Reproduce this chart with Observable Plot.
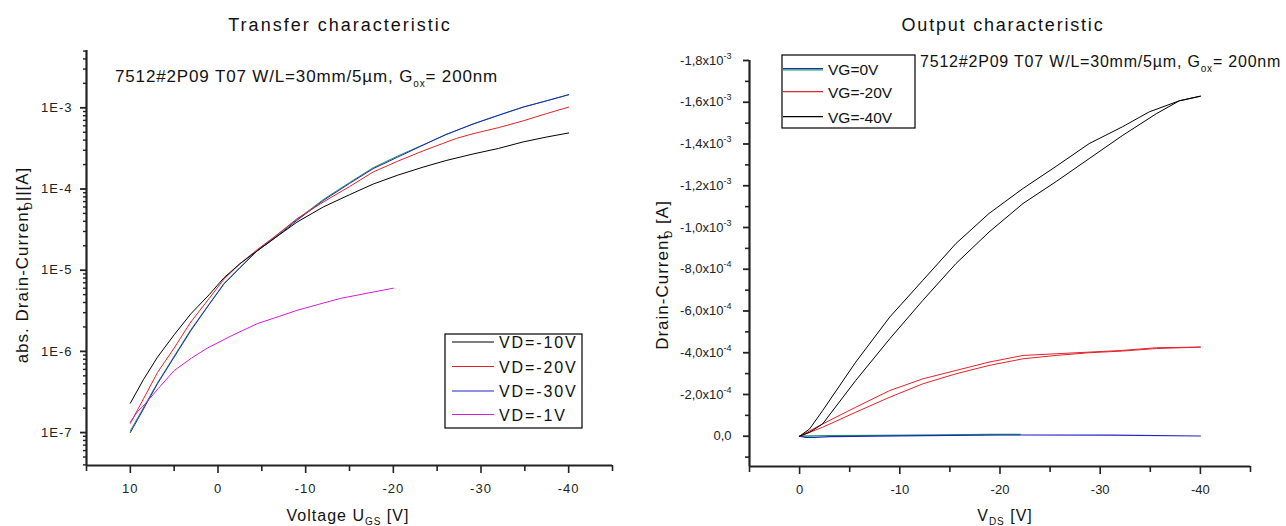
<!DOCTYPE html>
<html><head><meta charset="utf-8">
<script src="https://cdn.jsdelivr.net/npm/d3@7"></script>
<script src="https://cdn.jsdelivr.net/npm/@observablehq/plot@0.6"></script>
<style>
html,body{margin:0;padding:0;background:#fff}
body{width:1286px;height:526px;overflow:hidden;position:relative}
#left,#right{position:absolute;top:0}
#left{left:0}
#right{left:640px}
svg{overflow:visible}
</style></head><body>
<div id="left"></div><div id="right"></div>
<script>
// ---------- Transfer characteristic (left) ----------
const transferTitle = "Transfer characteristic";
const transferNote = ["7512#2P09 T07 W/L=30mm/5µm, G", "ox", "= 200nm"];
const vgsTicks = [10, 0, -10, -20, -30, -40];
const vgsMinor = [15, 5, -5, -15, -25, -35, -45];
const idDecades = [1e-7, 1e-6, 1e-5, 1e-4, 1e-3];
const transferLegend = ["VD=-10V", "VD=-20V", "VD=-30V", "VD=-1V"];

const vgsBlack = [10, 8.5, 6.9, 5, 3.1, 1, -0.7, -2.5, -4.5, -6.5, -9, -12, -15, -17.7, -20.5, -23.4, -26, -29.1, -32, -34.8, -37.5, -40];
const idBlack  = [2.3e-7, 4.5e-7, 8.5e-7, 1.6e-6, 2.9e-6, 5.0e-6, 8.1e-6, 1.2e-5, 1.74e-5, 2.5e-5, 3.9e-5, 6.0e-5, 8.5e-5, 1.15e-4, 1.48e-4, 1.86e-4, 2.24e-4, 2.7e-4, 3.16e-4, 3.8e-4, 4.37e-4, 4.9e-4];

const vgsRed = [10, 8.5, 6.9, 5, 3.1, 1, -0.7, -2.5, -4.5, -6.5, -9, -12, -15, -17.7, -20.5, -23.4, -27.2, -29.1, -32, -34.8, -37.5, -40];
const idRed  = [1.3e-7, 2.6e-7, 5.5e-7, 1.1e-6, 2.3e-6, 4.5e-6, 7.8e-6, 1.2e-5, 1.8e-5, 2.6e-5, 4.3e-5, 6.9e-5, 1.07e-4, 1.62e-4, 2.2e-4, 2.95e-4, 4.2e-4, 4.8e-4, 5.7e-4, 6.9e-4, 8.5e-4, 1.02e-3];

const vgsBlue = [10, 8.5, 6.9, 5, 3.1, 1, -0.7, -2.5, -4.5, -6.5, -9, -12, -15, -17.7, -20.5, -23.4, -26, -29.1, -32, -34.8, -37.5, -40];
const idBlue  = [1.0e-7, 1.95e-7, 4.0e-7, 8.5e-7, 1.8e-6, 3.8e-6, 6.8e-6, 1.07e-5, 1.74e-5, 2.5e-5, 4.1e-5, 7.2e-5, 1.17e-4, 1.78e-4, 2.47e-4, 3.47e-4, 4.7e-4, 6.3e-4, 8.1e-4, 1.02e-3, 1.22e-3, 1.45e-3];

const vgsGreen = [10, 6.9, 3.1, -0.7, -4.5, -9, -12, -15, -17.7, -20.5, -23.4, -26, -29.1, -34.8, -40];
const idGreen  = [1.05e-7, 4.1e-7, 1.85e-6, 6.9e-6, 1.77e-5, 4.2e-5, 7.4e-5, 1.2e-4, 1.83e-4, 2.55e-4, 3.5e-4, 4.65e-4, 6.35e-4, 1.02e-3, 1.45e-3];

const vgsMag = [10, 9.2, 8.4, 6.8, 5.0, 3.0, 1.2, -1.5, -4.5, -7, -9, -11.5, -14, -17, -20];
const idMag  = [1.35e-7, 1.8e-7, 2.2e-7, 3.5e-7, 5.8e-7, 8.3e-7, 1.1e-6, 1.55e-6, 2.2e-6, 2.7e-6, 3.2e-6, 3.8e-6, 4.5e-6, 5.2e-6, 6.0e-6];

// ---------- Output characteristic (right) ----------
const outputTitle = "Output characteristic";
const vdsTicks = [0, -10, -20, -30, -40];
const vdsMinor = [5, -5, -15, -25, -35, -45];
const idOutTicks = [-1.8e-3, -1.6e-3, -1.4e-3, -1.2e-3, -1.0e-3, -8e-4, -6e-4, -4e-4, -2e-4, 0];
const idOutMinor = [-1.7e-3, -1.5e-3, -1.3e-3, -1.1e-3, -9e-4, -7e-4, -5e-4, -3e-4, -1e-4, 1e-4];
const outputLegend = ["VG=0V", "VG=-20V", "VG=-40V"];

const vdsUp40 = [0, -1, -2.3, -5.6, -9, -12.3, -15.6, -18.9, -22.3, -25.6, -28.9, -32.2, -34.9, -37.9, -40];
const idUp40  = [0, -3.5e-5, -1.23e-4, -3.55e-4, -5.71e-4, -7.47e-4, -9.23e-4, -1.067e-3, -1.187e-3, -1.293e-3, -1.402e-3, -1.482e-3, -1.554e-3, -1.607e-3, -1.629e-3];
const vdsDn40 = [0, -1, -2.3, -5.6, -9, -12.3, -15.6, -18.9, -22.3, -25.6, -28.9, -32.2, -35.6, -37.9, -40];
const idDn40  = [0, -1.9e-5, -5.9e-5, -2.67e-4, -4.67e-4, -6.51e-4, -8.27e-4, -9.78e-4, -1.115e-3, -1.22e-3, -1.33e-3, -1.44e-3, -1.545e-3, -1.607e-3, -1.629e-3];

const vds20   = [0, -2.3, -5.6, -9, -12.3, -15.6, -18.9, -22.3, -25.6, -28.9, -32.2, -35.6, -40];
const idUp20  = [0, -5.9e-5, -1.39e-4, -2.19e-4, -2.75e-4, -3.15e-4, -3.55e-4, -3.87e-4, -3.95e-4, -4.03e-4, -4.11e-4, -4.24e-4, -4.27e-4];
const idDn20  = [0, -4.3e-5, -1.15e-4, -1.87e-4, -2.51e-4, -2.99e-4, -3.39e-4, -3.71e-4, -3.87e-4, -4.0e-4, -4.08e-4, -4.2e-4, -4.27e-4];

const vds0g = [0, -1, -3, -8, -14, -19, -22];
const id0g  = [0, -1e-6, -3e-6, -4e-6, -6e-6, -8e-6, -8e-6];
const vds0b = [0, -0.5, -1.5, -3, -10, -20, -31, -40];
const id0b  = [0, 5e-6, 6e-6, 2e-6, -2e-6, -6e-6, -5e-6, -1e-6];

// ---------- helpers ----------
const FONT = '"Liberation Sans", Arial, Helvetica, sans-serif';
const C = {black: "#000000", red: "#e3222a", blue: "#1f24c4", green: "#1a9a5a", magenta: "#d51dd5"};
const pts = (X, Y) => X.map((x, i) => ({x, y: Y[i]}));
const line = (X, Y, stroke, w = 1) => Plot.line(pts(X, Y), {x: "x", y: "y", stroke, strokeWidth: w});

function addText(g, x, y, parts, opts = {}) {
  const t = g.append("text").attr("x", x).attr("y", y)
    .attr("font-family", FONT).attr("font-size", opts.size || 16)
    .attr("fill", opts.fill || "#111")
    .attr("text-anchor", opts.anchor || "start")
    .attr("letter-spacing", opts.ls || 0);
  if (opts.rotate) t.attr("transform", `rotate(-90 ${x} ${y})`);
  parts.forEach(p => {
    if (typeof p === "string") t.append("tspan").text(p);
    else t.append("tspan").attr("font-size", p.size).attr("dy", p.dy).attr("dx", p.dx || 0).text(p.t);
  });
  return t;
}

// ---------- left chart ----------
const yMinL = 3.93e-8, yMaxL = 5.08e-3;
const idMinor = [];
for (let e = -8; e <= -3; e++) for (let m = 2; m <= 9; m++) { const v = m * Math.pow(10, e); if (v > yMinL && v < yMaxL) idMinor.push(v); }

const left = Plot.plot({
  width: 640, height: 526,
  marginLeft: 86, marginRight: 28, marginTop: 50, marginBottom: 61,
  x: {domain: [15, -45]},
  y: {type: "log", domain: [yMinL, yMaxL]},
  style: {fontFamily: FONT, fontSize: "13px", color: "#222", background: "transparent"},
  marks: [
    Plot.axisX({ticks: vgsTicks, tickSize: 8, tickPadding: 10, tickFormat: d => String(d), label: null, strokeWidth: 1.6}),
    Plot.axisX({ticks: vgsMinor, tickSize: 6, tickFormat: () => "", label: null, strokeWidth: 1.6}),
    Plot.axisY({ticks: idDecades, tickSize: 6, tickPadding: 8, tickFormat: d => "1E" + Math.round(Math.log10(d)), label: null, strokeWidth: 1.8}),
    Plot.axisY({ticks: idMinor, tickSize: 3, tickFormat: () => "", label: null, strokeWidth: 1.4}),
    Plot.ruleX([15], {strokeWidth: 2.2}),
    Plot.ruleY([yMinL], {strokeWidth: 2.2}),
    line(vgsGreen, idGreen, C.green),
    line(vgsBlue, idBlue, C.blue),
    line(vgsRed, idRed, C.red),
    line(vgsBlack, idBlack, C.black),
    line(vgsMag, idMag, C.magenta)
  ]
});
document.getElementById("left").appendChild(left);
{
  const g = d3.select(left);
  g.selectAll("text").attr("letter-spacing", 1);
  addText(g, 340, 31, [transferTitle], {size: 18, anchor: "middle", ls: 2.0});
  addText(g, 115, 82, [transferNote[0], {t: transferNote[1], size: 10, dy: 5}, {t: transferNote[2], size: 17, dy: -5}], {size: 17, ls: 0.85});
  addText(g, 348, 521, ["Voltage U", {t: "GS", size: 10, dy: 4}, {t: " [V]", size: 16, dy: -4}], {size: 16, anchor: "middle", ls: 1});
  addText(g, 28, 265, ["abs. Drain-Current", {t: "D", size: 10, dy: 4, dx: -4}, {t: "||[A]", size: 17, dy: -4}], {size: 17, anchor: "middle", rotate: true, ls: 1});
  // legend
  g.append("rect").attr("x", 445).attr("y", 334).attr("width", 137).attr("height", 94)
    .attr("fill", "#fff").attr("stroke", "#000").attr("stroke-width", 1.2);
  const lc = [C.black, C.red, C.blue, C.magenta];
  const ly = [342, 366.5, 391, 414.5];
  transferLegend.forEach((t, i) => {
    g.append("line").attr("x1", 452).attr("x2", 494).attr("y1", ly[i]).attr("y2", ly[i]).attr("stroke", lc[i]).attr("stroke-width", 1.2);
    addText(g, 499, ly[i] + 6, [t], {size: 16, ls: 1.9});
  });
}

// ---------- right chart ----------
const yMinR = 1.45e-4, yMaxR = -1.8e-3;
function sciFmt(v) {
  if (v === 0) return "0,0";
  const e = Math.floor(Math.log10(Math.abs(v)) + 1e-9);
  const m = v / Math.pow(10, e);
  return m.toFixed(1).replace(".", ",") + "x10^" + e;
}
const right = Plot.plot({
  width: 646, height: 526,
  marginLeft: 109, marginRight: 36, marginTop: 60, marginBottom: 60,
  x: {domain: [5, -45]},
  y: {domain: [yMinR, yMaxR]},
  style: {fontFamily: FONT, fontSize: "13px", color: "#222", background: "transparent"},
  marks: [
    Plot.axisX({ticks: vdsTicks, tickSize: 8, tickPadding: 10, tickFormat: d => String(d), label: null, strokeWidth: 1.6}),
    Plot.axisX({ticks: vdsMinor, tickSize: 6, tickFormat: () => "", label: null, strokeWidth: 1.6}),
    Plot.axisY({ticks: idOutTicks, tickSize: 6, tickPadding: 12, tickFormat: sciFmt, label: null, strokeWidth: 1.8}),
    Plot.axisY({ticks: idOutMinor, tickSize: 4, tickFormat: () => "", label: null, strokeWidth: 1.6}),
    Plot.ruleX([5], {y1: yMinR, y2: yMaxR, strokeWidth: 2.2}),
    Plot.ruleY([yMinR], {strokeWidth: 2.2}),
    line(vds0g, id0g, C.green, 1.4),
    line(vds0b, id0b, C.blue, 1.2),
    line(vds20, idUp20, C.red),
    line(vds20, idDn20, C.red),
    line(vdsUp40, idUp40, C.black),
    line(vdsDn40, idDn40, C.black)
  ]
});
document.getElementById("right").appendChild(right);
{
  const g = d3.select(right);
  g.selectAll("text").each(function () {
    const s = this.textContent;
    if (s.includes("^")) {
      const [a, b] = s.split("^");
      const t = d3.select(this); t.text(null);
      t.append("tspan").text(a);
      t.append("tspan").attr("dy", -6).attr("font-size", 9).text(b);
    }
  });
  addText(g, 363, 31, [outputTitle], {size: 18, anchor: "middle", ls: 1.8});
  addText(g, 280, 67, [transferNote[0], {t: transferNote[1], size: 10, dy: 5}, {t: transferNote[2], size: 16, dy: -5}], {size: 16, ls: 0.8});
  addText(g, 365, 521, ["V", {t: "DS", size: 10, dy: 4}, {t: " [V]", size: 16, dy: -4}], {size: 16, anchor: "middle", ls: 1});
  addText(g, 28, 275, ["Drain-Current", {t: "D", size: 10, dy: 4, dx: -4}, {t: " [A]", size: 17, dy: -4}], {size: 17, anchor: "middle", rotate: true, ls: 1});
  g.append("rect").attr("x", 142).attr("y", 55).attr("width", 133).attr("height", 73)
    .attr("fill", "#fff").attr("stroke", "#000").attr("stroke-width", 1.2);
  const ly = [68.5, 91.7, 116.7];
  g.append("line").attr("x1", 143).attr("x2", 183).attr("y1", 69.8).attr("y2", 69.8).attr("stroke", C.green).attr("stroke-width", 1.2);
  const lc = [C.blue, C.red, C.black];
  outputLegend.forEach((t, i) => {
    g.append("line").attr("x1", 143).attr("x2", 183).attr("y1", ly[i]).attr("y2", ly[i]).attr("stroke", lc[i]).attr("stroke-width", 1.2);
    addText(g, 188, ly[i] + 6, [t], {size: 15.5});
  });
}
</script>
</body></html>
